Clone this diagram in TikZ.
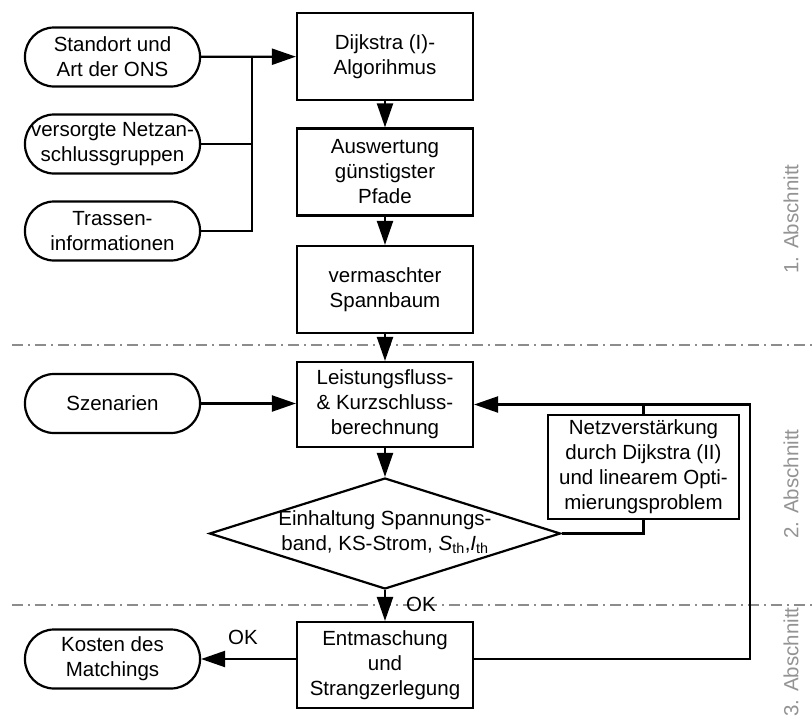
\documentclass[tikz,border=0pt]{standalone}
\usepackage{fontspec}
\setmainfont{Liberation Sans}
\usetikzlibrary{arrows.meta,shapes.geometric,calc}
\definecolor{sepgray}{HTML}{8C8C8C}
\definecolor{txtgray}{HTML}{939393}
\begin{document}
\begin{tikzpicture}[x=1pt,y=-1pt, line width=2.2pt,
  every node/.style={font=\fontsize{20.5}{25}\selectfont, align=center, inner sep=0pt},
  term/.style={draw, rounded corners=29pt, minimum width=175pt, minimum height=59pt},
  proc/.style={draw, minimum width=176pt, minimum height=87pt},
  arr/.style={-{Triangle[length=24pt,width=16pt]}},
  sep/.style={draw=sepgray, line width=1.5pt, dash pattern=on 11pt off 5pt on 2pt off 5pt},
  sect/.style={text=txtgray, rotate=90}]
\useasboundingbox (0,0) rectangle (812,726);
% section separators
\coordinate (s1a) at (12,345);
\coordinate (s1b) at (812,345);
\coordinate (s2a) at (12,605);
\coordinate (s2b) at (812,605);
\draw[sep] (s1a) -- (s1b);
\draw[sep] (s2a) -- (s2b);
% section labels
\node[sect] (l1) at (791,219) {1. Abschnitt};
\node[sect] (l2) at (791,484) {2. Abschnitt};
\node[sect] (l3) at (791,662) {3. Abschnitt};
% terminals
\node[term] (t1) at (112.5,57) {Standort und\\Art der ONS};
\node[term] (t2) at (112.5,144) {versorgte Netzan-\\schlussgruppen};
\node[term] (t3) at (112.5,231) {Trassen-\\informationen};
\node[term] (szen) at (112.5,403.5) {Szenarien};
\node[term] (kosten) at (112.5,659) {Kosten des\\Matchings};
% process boxes
\node[proc] (b1) at (385,56.5) {Dijkstra (I)-\\Algorihmus};
\node[proc] (b2) at (385,172) {Auswertung\\günstigster\\Pfade};
\node[proc] (b3) at (385,289.5) {vermaschter\\Spannbaum};
\node[proc, minimum height=85pt] (b4) at (385,404.5) {Leistungsfluss-\\\& Kurzschluss-\\berechnung};
\node[draw, diamond, minimum width=351pt, minimum height=111pt] (d) at (385,533.5) {};
\node (dtext) at (385,532) {Einhaltung Spannungs-\\band, KS-Strom, \textit{S}\textsubscript{th},\textit{I}\textsubscript{th}};
\node[draw, minimum width=191pt, minimum height=104pt] (netz) at (643.5,467) {Netzverstärkung\\durch Dijkstra (II)\\und linearem Opti-\\mierungsproblem};
\node[proc, minimum height=86pt] (b5) at (385,665) {Entmaschung\\und\\Strangzerlegung};
% inputs
\coordinate (bus) at (252,57);
\draw[arr] (t1) -- (b1);
\draw (t2.east) -| (bus);
\draw (t3.east) -| (bus);
\draw[arr] (szen) -- (b4.west |- szen);
% main flow
\draw[arr] (b1) -- (b2);
\draw[arr] (b2) -- (b3);
\draw[arr] (b3) -- (b4);
\draw[arr] (b4) -- (d.north);
\draw[arr] (d.south) -- (b5.north);
\node (ok1) at (421,604) {OK};
% output
\draw[arr] (b5.west |- kosten) -- (kosten.east);
\node (ok2) at (243,637) {OK};
% feedback loop
\coordinate (fb) at (750,659);
\draw[arr] (b5.east |- kosten) -- (fb) |- (b4.east);
\draw (netz.north) -- (netz.north |- b4.east);
\draw (d.east) -| (netz.south);
\end{tikzpicture}
\end{document}
